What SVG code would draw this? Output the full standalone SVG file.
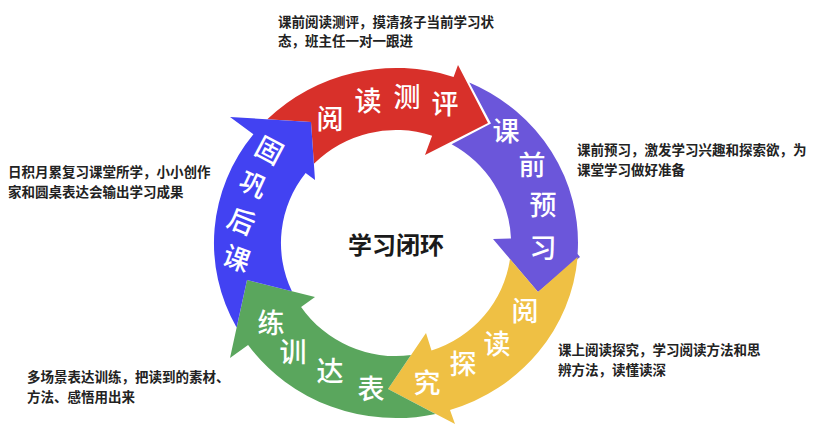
<svg xmlns="http://www.w3.org/2000/svg" width="822" height="424" viewBox="0 0 822 424">
<style>
.seg{stroke:none}
.lbl{font-family:"Noto Sans CJK SC","Noto Sans",sans-serif;font-size:27px;font-weight:500;fill:#ffffff;text-anchor:middle;dominant-baseline:central}
.note{font-family:"Noto Sans CJK SC","Noto Sans",sans-serif;font-size:13.5px;font-weight:bold;fill:#222222}
.title{font-family:"Noto Sans CJK SC","Noto Sans",sans-serif;font-size:24px;font-weight:bold;fill:#1a1a1a;text-anchor:middle;dominant-baseline:central}
</style>
<rect width="822" height="424" fill="#ffffff"/>
<g id="connectors"></g>
<g id="node-red">
<path class="seg" fill="#D8302A" d="M267.3,119.3 A182,175 0 0 1 453.6,76.9 L458,65 L488,123 L425,155 L432.1,135.7 A115,113 0 0 0 313.9,163.8 L311,122 Z"/>
<text class="lbl" x="330" y="117">阅</text>
<text class="lbl" x="368" y="99">读</text>
<text class="lbl" x="407" y="95">测</text>
<text class="lbl" x="445" y="102">评</text>
</g>
<g id="node-purple">
<path class="seg" fill="#6B56DA" d="M469.3,82.5 A182,175 0 0 1 577.6,254 L580,257 L538,292 L493,239 L511,238.5 A115,113 0 0 0 451.6,144.3 L491,123.5 Z"/>
<text class="lbl" x="506" y="129">课</text>
<text class="lbl" x="532" y="163">前</text>
<text class="lbl" x="543" y="203">预</text>
<text class="lbl" x="543" y="246">习</text>
</g>
<g id="node-yellow">
<path class="seg" fill="#EFC044" d="M577.6,257 A182,175 0 0 1 450,410 L455,424 L388,389 L426,333 L431.5,350.5 A115,113 0 0 0 510,259 L538,292 Z"/>
<text class="lbl" x="525" y="309">阅</text>
<text class="lbl" x="497" y="342">读</text>
<text class="lbl" x="463" y="362">探</text>
<text class="lbl" x="427" y="381">究</text>
</g>
<g id="node-green">
<path class="seg" fill="#5AA65D" d="M435.6,413.9 A182,175 0 0 1 248.1,345 L230,358 L247,280 L315,297 L301.1,306.9 A115,113 0 0 0 411,355.1 L388,389 Z"/>
<text class="lbl" x="271" y="321">练</text>
<text class="lbl" x="293" y="350">训</text>
<text class="lbl" x="330" y="369">达</text>
<text class="lbl" x="371" y="387">表</text>
</g>
<g id="node-blue">
<path class="seg" fill="#4242F2" d="M236.6,327.6 A182,175 0 0 1 253.4,134.3 L230,117 L311,122 L315,180 L305.65,173.1 A115,113 0 0 0 291.9,291.2 L247,280 Z"/>
<text class="lbl" x="270" y="149" transform="rotate(28 270 149)">固</text>
<text class="lbl" x="254" y="183" transform="rotate(25 254 183)">巩</text>
<text class="lbl" x="242" y="220" transform="rotate(22 242 220)">后</text>
<text class="lbl" x="237" y="257" transform="rotate(20 237 257)">课</text>
</g>
<g id="node-center">
<text class="title" x="396" y="243">学习闭环</text>
</g>
<g id="note-top">
<text class="note" x="278" y="26.5">课前阅读测评，摸清孩子当前学习状</text>
<text class="note" x="278" y="46">态，班主任一对一跟进</text>
</g>
<g id="note-right">
<text class="note" x="577" y="155">课前预习，激发学习兴趣和探索欲，为</text>
<text class="note" x="577" y="174.5">课堂学习做好准备</text>
</g>
<g id="note-left">
<text class="note" x="8" y="177">日积月累复习课堂所学，小小创作</text>
<text class="note" x="8" y="196.5">家和圆桌表达会输出学习成果</text>
</g>
<g id="note-bottom-left">
<text class="note" x="27" y="382">多场景表达训练，把读到的素材、</text>
<text class="note" x="27" y="401.5">方法、感悟用出来</text>
</g>
<g id="note-bottom-right">
<text class="note" x="558" y="355">课上阅读探究，学习阅读方法和思</text>
<text class="note" x="558" y="374.5">辨方法，读懂读深</text>
</g>
</svg>
